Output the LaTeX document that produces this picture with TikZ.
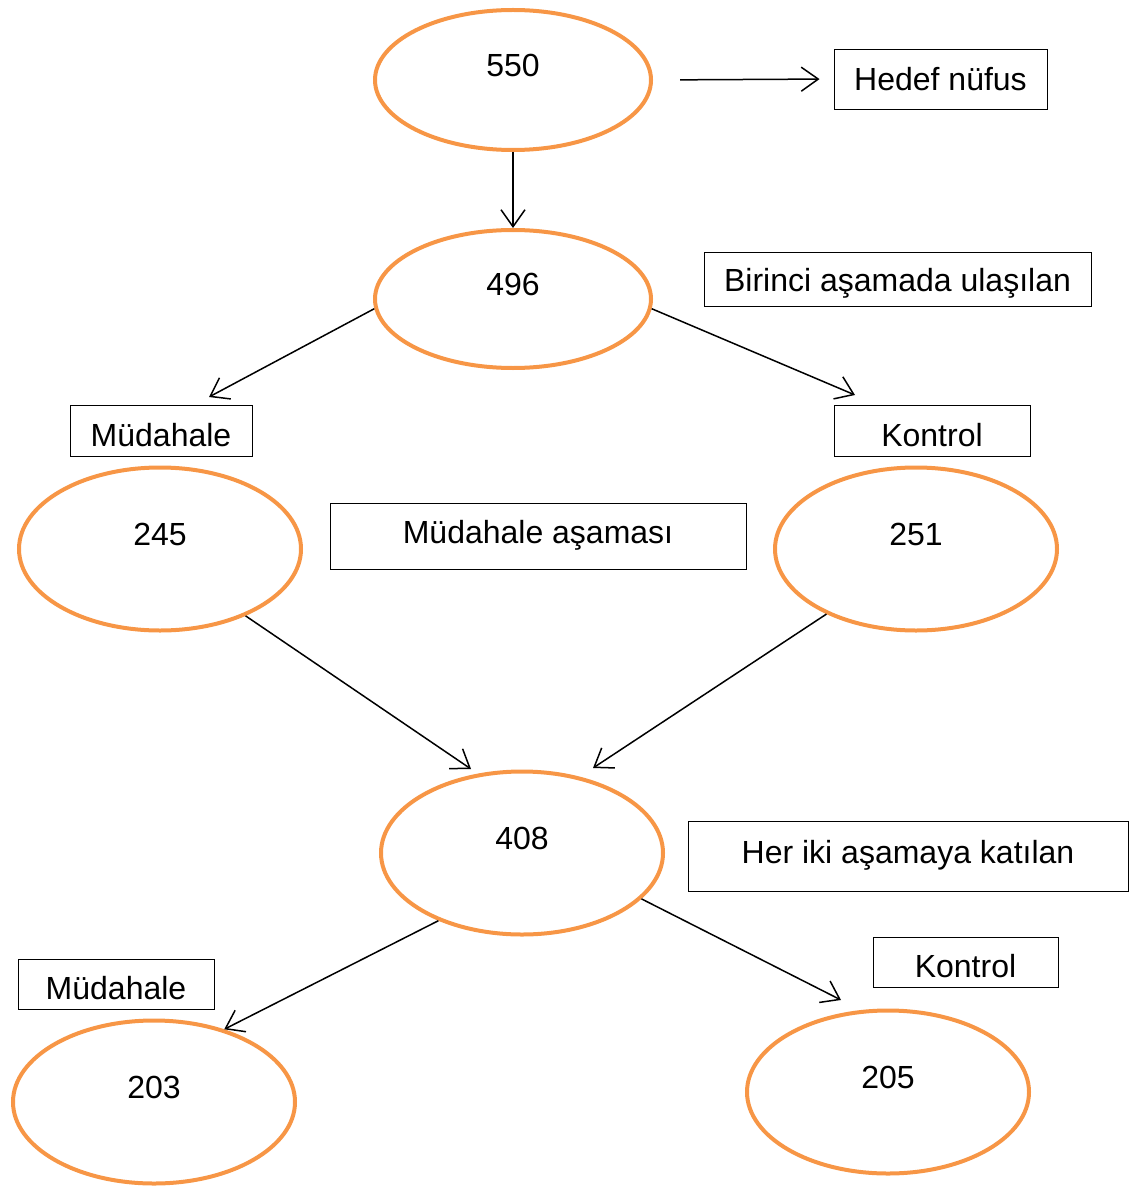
\documentclass[tikz,border=0pt]{standalone}
\usepackage{fontspec}
\setmainfont{Liberation Sans}
\usetikzlibrary{shapes.geometric,arrows.meta}
\definecolor{ovalorange}{RGB}{247,150,70}
\begin{document}
\begin{tikzpicture}[
        x=1pt, y=-1pt, % pixel grid, y downwards
        font=\fontsize{32pt}{38pt}\selectfont,
        count/.style={ellipse, draw=ovalorange, line width=4pt, inner sep=0pt, minimum width=282pt, minimum height=163pt, text height=23pt, text depth=30pt}, % orange ovals
        note/.style={draw, line width=0.9pt, inner sep=0pt, text height=23pt, text depth=0pt}, % text in the middle
        tag/.style={note, text height=31pt}, % text sits low
        stage/.style={note, text depth=8pt}, % text sits high
        link/.style={line width=1.5pt, -{Straight Barb[length=17pt, width=24pt, line width=1.5pt]}} % arrow styling
        ]
        \useasboundingbox (0,0) rectangle (1129,1190);

        % Define nodes
        \node (n550) [count, minimum width=276pt, minimum height=140pt] at (513,80) {550};
        \node (n496) [count, minimum width=276pt, minimum height=138pt] at (513,299) {496};
        \node (n245) [count] at (160,549) {245};
        \node (n251) [count] at (916,549) {251};
        \node (n408) [count] at (522,853) {408};
        \node (n203) [count] at (154,1102) {203};
        \node (n205) [count] at (888,1092) {205};

        \node (hedef) [note, minimum width=213pt, minimum height=60pt] at (940.5,79) {Hedef nüfus};
        \node (birinci) [note, minimum width=387pt, minimum height=54pt, text height=25pt] at (897.5,279) {Birinci aşamada ulaşılan};
        \node (mud1) [tag, minimum width=182pt, minimum height=51pt] at (161,430.5) {Müdahale};
        \node (kon1) [tag, minimum width=196pt, minimum height=51pt] at (932,430.5) {Kontrol};
        \node (mudstage) [stage, minimum width=416pt, minimum height=66pt] at (538,536) {Müdahale aşaması};
        \node (heriki) [stage, minimum width=440pt, minimum height=70pt] at (908,856) {Her iki aşamaya katılan};
        \node (mud2) [tag, minimum width=196pt, minimum height=50pt] at (116,984) {Müdahale};
        \node (kon2) [tag, minimum width=185pt, minimum height=50pt] at (965.5,962) {Kontrol};

        % Free arrow ends
        \coordinate (mud1end) at (209,397);
        \coordinate (kon1end) at (855,395);
        \coordinate (in408left) at (471,769);
        \coordinate (in408right) at (593,768);
        \coordinate (in205) at (841,1000);

        % Draw arrows
        \draw[link, shorten <=27pt, shorten >=14pt] (n550.east) -- (hedef.west);
        \draw[link] (n550.south) -- (n496.north);

        \draw[link] (n496.184) -- (mud1end);
        \draw[link] (n496.356) -- (kon1end);

        \draw[link] (n245.-38) -- (in408left);
        \draw[link] (n251.216) -- (in408right);

        \draw[link] (n408.219) -- (n203.46);
        \draw[link] (n408.-21) -- (in205);

    \end{tikzpicture}
\end{document}
